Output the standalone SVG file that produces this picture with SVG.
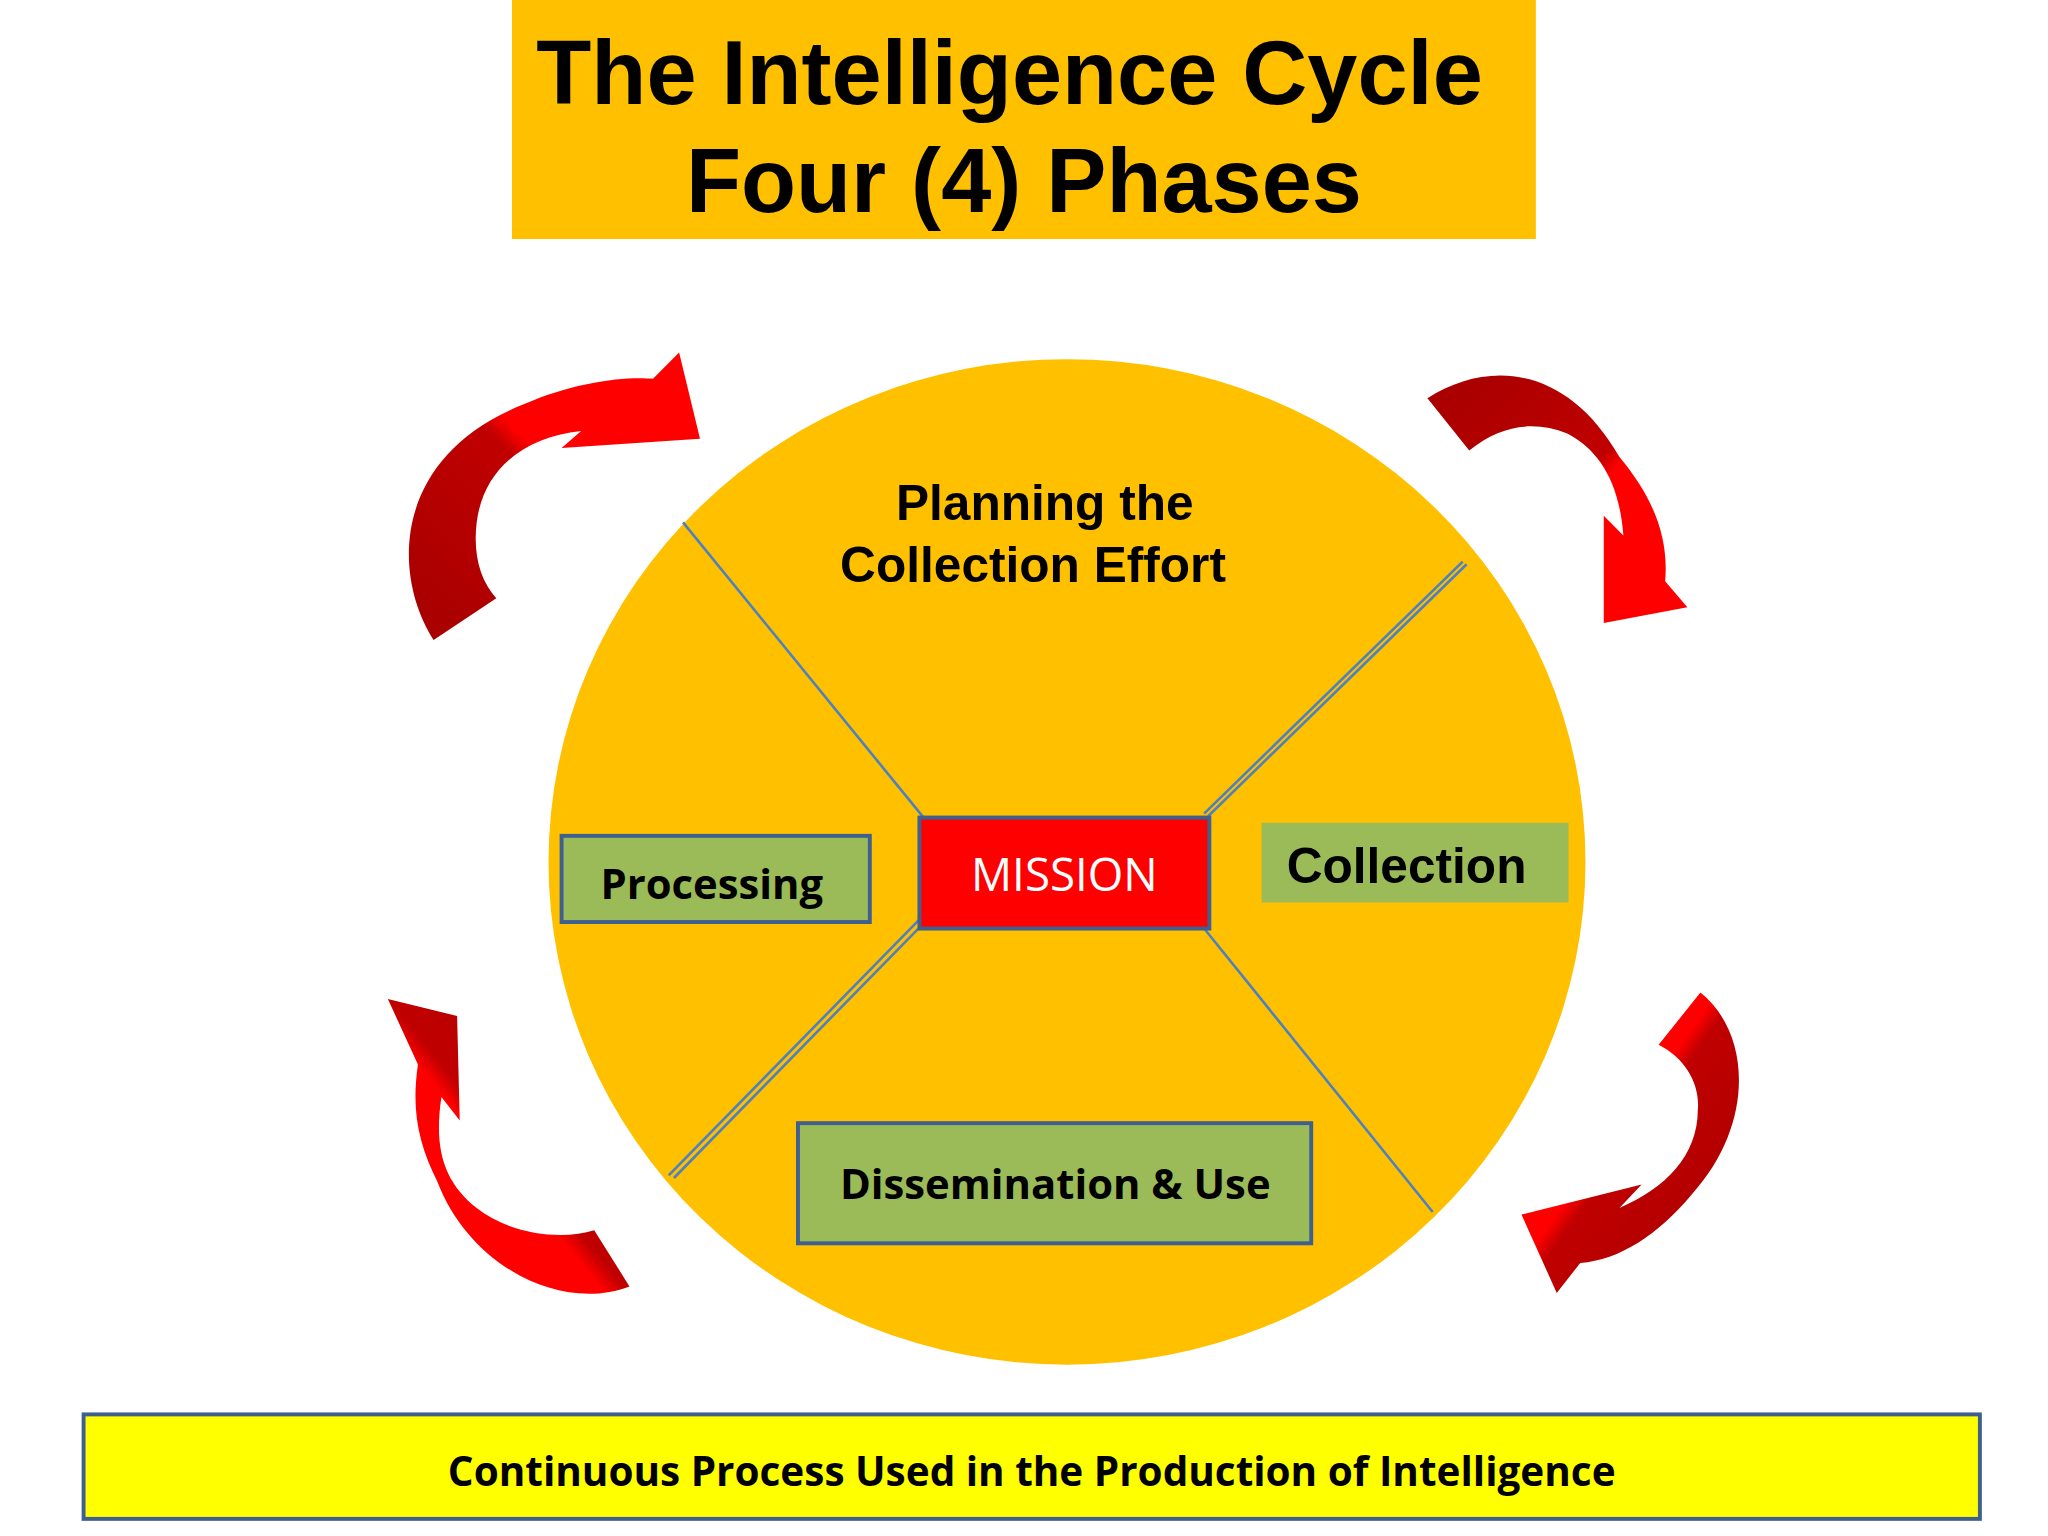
<svg xmlns="http://www.w3.org/2000/svg" width="2048" height="1536" viewBox="0 0 2048 1536">
<defs>
<linearGradient id="g1" x1="0" y1="1" x2="1" y2="0"><stop offset="0" stop-color="#A50000"/><stop offset="0.5" stop-color="#C00000"/><stop offset="0.55" stop-color="#FF0000"/><stop offset="1" stop-color="#FF0000"/></linearGradient>
<linearGradient id="g2" x1="0" y1="0" x2="1" y2="1"><stop offset="0" stop-color="#A50000"/><stop offset="0.5" stop-color="#C00000"/><stop offset="0.55" stop-color="#FF0000"/><stop offset="1" stop-color="#FF0000"/></linearGradient>
<linearGradient id="g3" x1="1" y1="0" x2="0" y2="1"><stop offset="0" stop-color="#A50000"/><stop offset="0.5" stop-color="#C00000"/><stop offset="0.55" stop-color="#FF0000"/><stop offset="1" stop-color="#FF0000"/></linearGradient>
<linearGradient id="g4" x1="1" y1="1" x2="0" y2="0"><stop offset="0" stop-color="#A50000"/><stop offset="0.5" stop-color="#C00000"/><stop offset="0.55" stop-color="#FF0000"/><stop offset="1" stop-color="#FF0000"/></linearGradient>
</defs>
<style>
.bx{stroke:#3F5F8F;stroke-width:3}
.t{font-family:"Liberation Sans",Arial,sans-serif;font-weight:bold;fill:#000;text-anchor:middle}
.c{font-family:"Open Sans","Liberation Sans",sans-serif;font-weight:bold;fill:#000;text-anchor:middle}
.ln{stroke:#4F81BD;stroke-width:2;fill:none}
</style>
<rect width="2048" height="1536" fill="#fff"/>
<g transform="scale(1.306)">
<g id="title"><rect x="392" y="0" width="784" height="183" fill="#FFC000"/>
<text class="t" x="773" y="80" font-size="69">The Intelligence Cycle</text>
<text class="t" x="784" y="162" font-size="69">Four (4) Phases</text></g>
<g id="circle"><ellipse cx="817" cy="660" rx="397" ry="385" fill="#FFC000"/>
<text class="t" x="800" y="398" font-size="38">Planning the</text>
<text class="t" x="791" y="446" font-size="38">Collection Effort</text></g>
<g id="connectors">
<line class="ln" x1="523" y1="400" x2="708" y2="627"/>
<line class="ln" x1="1123" y1="432" x2="925" y2="625"/><line class="ln" x1="1120" y1="430" x2="922" y2="623"/>
<line class="ln" x1="708" y1="700" x2="512" y2="900"/><line class="ln" x1="712" y1="702" x2="516" y2="902"/>
<line class="ln" x1="918" y1="706" x2="1097" y2="928"/>
</g>
<g id="mission"><rect class="bx" x="704" y="626" width="222" height="85" fill="#FF0000"/>
<text x="815" y="682" font-size="35" fill="#fff" text-anchor="middle" font-family="Open Sans,Liberation Sans,sans-serif">MISSION</text></g>
<g id="processing"><rect class="bx" x="430" y="640" width="236" height="66" fill="#9BBB59"/>
<text class="c" x="545" y="688" font-size="32">Processing</text></g>
<g id="collection"><rect x="966" y="630" width="235" height="61" fill="#9BBB59"/>
<text class="t" x="1077" y="676" font-size="38">Collection</text></g>
<g id="dissemination"><rect class="bx" x="611" y="860" width="393" height="92" fill="#9BBB59"/>
<text class="c" x="808" y="918" font-size="32">Dissemination &amp; Use</text></g>
<g id="footer"><rect class="bx" x="64" y="1083" width="1452" height="80" fill="#FFFF00"/>
<text class="c" x="790" y="1138" font-size="31">Continuous Process Used in the Production of Intelligence</text></g>
<g id="arrow-tl"><path d="M332,490 C300,440 300,350 400,310 C440,292 480,288 500,290 L520,270 L536,336 L430,343 L445,330 C400,335 370,360 365,400 C362,425 368,445 380,458 Z" fill="url(#g1)"/></g>
<g id="arrow-tr"><path d="M1093,305 C1140,275 1200,280 1240,350 C1265,380 1278,410 1275,445 L1292,465 L1228,477 L1228,395 L1243,410 C1240,370 1225,345 1200,332 C1175,322 1150,325 1125,345 Z" fill="url(#g2)"/></g>
<g id="arrow-br"><path d="M1302,760 C1340,790 1345,860 1295,915 C1270,945 1240,965 1210,967 L1192,990 L1165,930 L1257,907 L1240,925 C1275,910 1300,885 1300,850 C1302,830 1290,810 1270,800 Z" fill="url(#g4)"/></g>
<g id="arrow-bl"><path d="M482,985 C430,1005 360,970 335,905 C320,875 315,850 320,815 L297,765 L350,778 L352,858 L338,840 C332,880 340,905 365,925 C390,945 430,950 455,942 Z" fill="url(#g3)"/></g>
</g>
</svg>
